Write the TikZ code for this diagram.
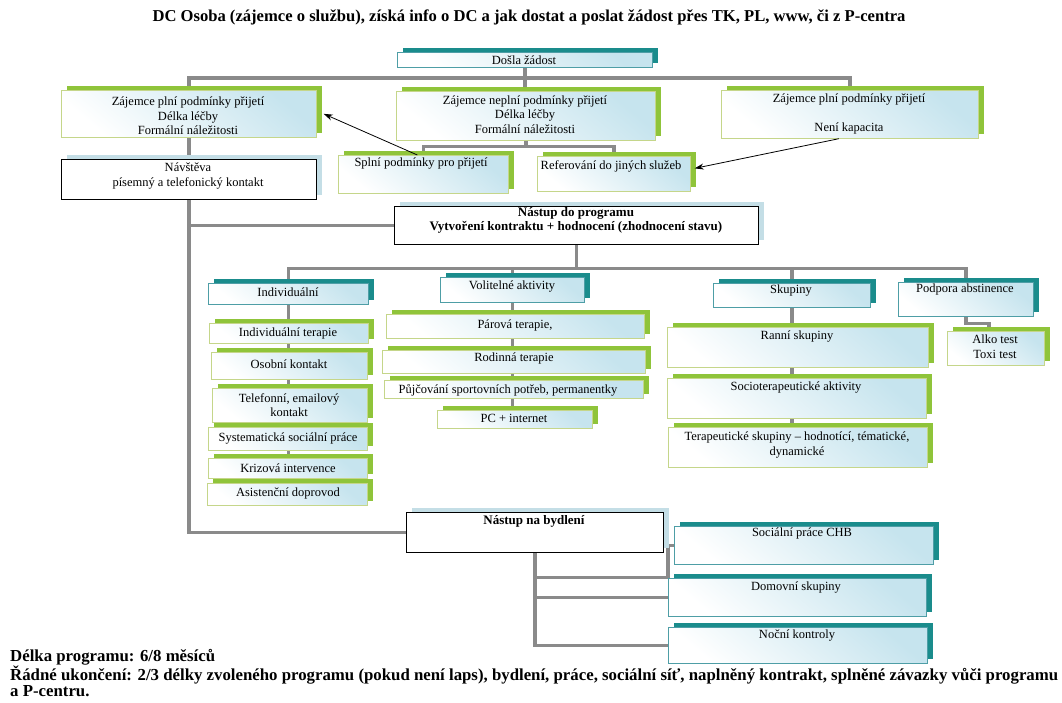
\documentclass[tikz,border=0pt]{standalone}
\usepackage{fontspec}
\setmainfont{Liberation Serif}
\usetikzlibrary{shadows,calc,arrows.meta}
\pgfdeclarelayer{paper}
\pgfdeclarelayer{bg}
\pgfsetlayers{paper,bg,main}
\definecolor{sgreen}{HTML}{8FC43A}
\definecolor{steal}{HTML}{1A8C8C}
\definecolor{slblue}{HTML}{C4DEE6}
\definecolor{fblue}{HTML}{C6E4EE}
\definecolor{gborder}{HTML}{C5D68A}
\definecolor{tborder}{HTML}{4E9EA6}
\definecolor{cgray}{HTML}{8A8A8A}
\tikzset{
  boxbase/.style={draw, inner sep=0pt, anchor=north west, line width=0.7pt},
  gbox/.style={boxbase, draw=gborder, top color=fblue, bottom color=white, shading angle=-40,
    general shadow={fill=sgreen, shadow xshift=6pt, shadow yshift=4pt}},
  tbox/.style={boxbase, draw=tborder, top color=fblue, bottom color=white, shading angle=-40,
    general shadow={fill=steal, shadow xshift=6pt, shadow yshift=4pt}},
  kbox/.style={boxbase, draw=black, fill=white,
    general shadow={fill=slblue, shadow xshift=6pt, shadow yshift=4pt}},
  txt/.style={inner sep=0pt, align=center, font=\fontsize{12.5}{14.5}\selectfont},
  btxt/.style={inner sep=0pt, align=center, font=\bfseries\fontsize{13}{13.5}\selectfont},
  bigtxt/.style={inner sep=0pt, anchor=west, font=\bfseries\fontsize{16.8}{18}\selectfont},
  conn/.style={draw=cgray, line width=3.5pt},
  arr/.style={draw=black, line width=0.8pt, -{Stealth[length=9pt,width=6pt]}},
}
\newcommand\mkbox[6]{\node[#1, minimum width={(#5-#3)*1pt}, minimum height={(#6-#4)*1pt}] (#2) at (#3,#4) {};}
\begin{document}
\begin{tikzpicture}[x=1pt,y=-1pt]
\begin{pgfonlayer}{paper}
\fill[white] (0,0) rectangle (1062,702);
\end{pgfonlayer}
\useasboundingbox (0,0) rectangle (1062,702);
% boxes
\mkbox{tbox}{dosla}{397}{52}{652}{67}
\mkbox{gbox}{zA}{61}{90}{316}{137}
\mkbox{gbox}{zB}{396}{91}{655}{140}
\mkbox{gbox}{zC}{721}{90}{978}{138}
\mkbox{gbox}{splni}{338}{155}{508}{193}
\mkbox{gbox}{refer}{537}{156}{690}{191}
\mkbox{kbox}{nav}{61}{159}{316}{199}
\mkbox{kbox}{prog}{394}{206}{758}{244}
\mkbox{tbox}{ind}{208}{283}{368}{304}
\mkbox{tbox}{vol}{440}{277}{584}{302}
\mkbox{tbox}{sk}{713}{283}{870}{307}
\mkbox{tbox}{pod}{898}{282}{1033}{316}
\mkbox{gbox}{it1}{209}{323}{368}{343}
\mkbox{gbox}{it2}{211}{352}{367}{379}
\mkbox{gbox}{it3}{212}{388}{367}{422}
\mkbox{gbox}{it4}{208}{427}{367}{450}
\mkbox{gbox}{it5}{208}{458}{367}{478}
\mkbox{gbox}{it6}{207}{483}{367}{505}
\mkbox{gbox}{v1}{386}{314}{644}{338}
\mkbox{gbox}{v2}{382}{350}{645}{373}
\mkbox{gbox}{v3}{384}{380}{643}{398}
\mkbox{gbox}{v4}{437}{410}{592}{428}
\mkbox{gbox}{s1}{667}{327}{928}{367}
\mkbox{gbox}{s2}{667}{378}{926}{418}
\mkbox{gbox}{s3}{668}{427}{927}{467}
\mkbox{gbox}{alko}{947}{331}{1044}{365}
\mkbox{kbox}{byd}{406}{512}{663}{552}
\mkbox{tbox}{b1}{674}{526}{933}{564}
\mkbox{tbox}{b2}{668}{578}{926}{616}
\mkbox{tbox}{b3}{668}{627}{927}{663}
% connectors
\begin{pgfonlayer}{bg}
\coordinate (j1) at (525,78);
\draw[conn] (dosla.south) -- (dosla.south |- zB.north);
\draw[conn] (zA.north) |- (j1) -| (zC.north);
\draw[conn] (zB.south) -- ++(0,6) coordinate (bj) -| (splni.north);
\draw[conn] (bj) -| (refer.north);
\draw[conn] (zA.south) -- (zA.south |- nav.north);
\draw[conn] (nav.south) |- (prog.west);
\draw[conn] (nav.south) |- (byd.west);
\draw[conn] (prog.south) -- ++(0,24) coordinate (pj) -| (ind.north);
\draw[conn] (pj) -| (vol.north);
\draw[conn] (pj) -| (sk.north);
\draw[conn] (pj) -| (pod.north);
\draw[conn] (ind.south) -- (ind.south |- it6.north);
\draw[conn] (vol.south) -- (vol.south |- v4.north);
\draw[conn] (sk.south) -- (sk.south |- s3.north);
\draw[conn] (pod.south) -- ++(0,7) -| ([xshift=-7pt]alko.north);
\draw[conn] (byd.south) |- (b3.west);
\draw[conn] (byd.south |- b2.west) -- (b2.west);
\draw[conn] (byd.south) ++(0,25) -| ([xshift=-6pt]b1.west) -- (b1.west);
\end{pgfonlayer}
% arrows
\draw[arr] ([xshift=-6pt]splni.north) -- ([xshift=7pt]zA.east);
\draw[arr] ([xshift=-11pt]zC.south) -- ([xshift=4pt,yshift=5.5pt]refer.east);
% texts
\node[inner sep=0pt, font=\bfseries\fontsize{16.6}{18}\selectfont] (title) at (529,17) {DC Osoba (zájemce o službu), získá info o DC a jak dostat a poslat žádost přes TK, PL, www, či z P-centra};
\node[txt] (tdosla) at (524,60) {Došla žádost};
\node[txt] (tA) at (188,116) {Zájemce plní podmínky přijetí\\Délka léčby\\Formální náležitosti};
\node[txt] (tB) at (525,114.5) {Zájemce neplní podmínky přijetí\\Délka léčby\\Formální náležitosti};
\node[txt] (tC) at (849,114) {Zájemce plní podmínky přijetí\\[14.5pt]Není kapacita};
\node[txt] (tsplni) at (421,163) {Splní podmínky pro přijetí};
\node[txt] (trefer) at (611,166) {Referování do jiných služeb};
\node[txt] (tnav) at (188,176) {Návštěva\\písemný a telefonický kontakt};
\node[btxt] (tprog) at (576,220.5) {Nástup do programu\\Vytvoření kontraktu + hodnocení (zhodnocení stavu)};
\node[txt] (tind) at (288,292) {Individuální};
\node[txt] (tvol) at (512,286) {Volitelné aktivity};
\node[txt] (tsk) at (791,291) {Skupiny};
\node[txt] (tpod) at (965,289) {Podpora abstinence};
\node[txt] (tit1) at (288,333) {Individuální terapie};
\node[txt] (tit2) at (289,364) {Osobní kontakt};
\node[txt] (tit3) at (289,405) {Telefonní, emailový\\kontakt};
\node[txt] (tit4) at (288,438) {Systematická sociální práce};
\node[txt] (tit5) at (288,468) {Krizová intervence};
\node[txt] (tit6) at (288,493) {Asistenční doprovod};
\node[txt] (tv1) at (515,325) {Párová terapie,};
\node[txt] (tv2) at (514,358) {Rodinná terapie};
\node[txt] (tv3) at (508,390) {Půjčování sportovních potřeb, permanentky};
\node[txt] (tv4) at (514,418) {PC + internet};
\node[txt] (ts1) at (797,336) {Ranní skupiny};
\node[txt] (ts2) at (796,387) {Socioterapeutické aktivity};
\node[txt] (ts3) at (797,445) {Terapeutické skupiny – hodnotící, tématické,\\dynamické};
\node[txt] (talko) at (995,346.5) {Alko test\\Toxi test};
\node[btxt] (tbyd) at (534,521) {Nástup na bydlení};
\node[txt] (tb1) at (802,533) {Sociální práce CHB};
\node[txt] (tb2) at (796,587) {Domovní skupiny};
\node[txt] (tb3) at (797,635) {Noční kontroly};
\node[bigtxt] (f1) at (10,657) {Délka programu: 6/8 měsíců};
\node[bigtxt] (f2) at (10,675) {Řádné ukončení: 2/3 délky zvoleného programu (pokud není laps), bydlení, práce, sociální síť, naplněný kontrakt, splněné závazky vůči programu};
\node[bigtxt] (f3) at (10,691) {a P-centru.};
\end{tikzpicture}
\end{document}
